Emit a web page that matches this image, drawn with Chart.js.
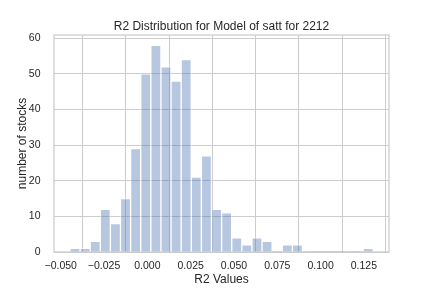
<!DOCTYPE html>
<html>
<head>
<meta charset="utf-8">
<script src="https://cdn.jsdelivr.net/npm/chart.js@4"></script>
<style>
  html, body { margin: 0; padding: 0; background: #fff; }
</style>
</head>
<body>
<canvas id="r2_hist" width="432" height="288"></canvas>
<script>
// histogram bin centres (R2 values) and counts
var binCenters = [-0.04178, -0.03594, -0.03011, -0.02427, -0.01843, -0.01260, -0.00676, -0.00092,
  0.00492, 0.01075, 0.01659, 0.02243, 0.02826, 0.03410, 0.03994, 0.04577, 0.05161, 0.05745,
  0.06329, 0.06912, 0.07496, 0.08080, 0.08663, 0.09247, 0.09831, 0.10414, 0.10998, 0.11582,
  0.12165, 0.12749];
var counts = [1, 1, 3, 12, 8, 15, 29, 50, 58, 52, 48, 54, 21, 27, 12, 11, 4, 2,
  4, 3, 0, 2, 2, 0, 0, 0, 0, 0, 0, 1];

var xTicks = [-0.05, -0.025, 0, 0.025, 0.05, 0.075, 0.1, 0.125];
var yTicks = [0, 10, 20, 30, 40, 50, 60];

var FONT = "'Liberation Sans', Arial, sans-serif";
var TXT = '#262626';
var GRID = '#cccccc';

// matplotlib draws a box round the axes, chart.js only left+bottom
var frame = {
  id: 'frame',
  beforeDatasetsDraw: function(chart) {
    var a = chart.chartArea, ctx = chart.ctx;
    ctx.save();
    ctx.strokeStyle = GRID;
    ctx.lineWidth = 1.25;
    ctx.strokeRect(a.left, a.top, a.right - a.left, a.bottom - a.top);
    ctx.restore();
  }
};

var data = [];
for (var i in binCenters) {
  data.push({x: binCenters[i], y: counts[i]});
}

var ctx = document.getElementById('r2_hist');
var chart = new Chart(ctx, {
  type: 'bar',
  data: {
    datasets: [{
      label: 'R2',
      data: data,
      backgroundColor: 'rgba(76, 114, 176, 0.4)',
      borderColor: 'rgba(255, 255, 255, 0.45)',
      // empty bins: no edge line on the axis
      borderWidth: function(c) { return c.raw && c.raw.y > 0 ? 1 : 0; },
      barPercentage: 1,
      categoryPercentage: 1
    }]
  },
  plugins: [frame],
  options: {
    responsive: false,
    animation: false,
    layout: { padding: { left: 0, right: 43, top: 0, bottom: 0 } },
    plugins: {
      legend: { display: false },
      tooltip: { enabled: false },
      title: {
        display: true,
        fullSize: false,   // centre it over the plot area, like matplotlib
        text: 'R2 Distribution for Model of satt for 2212',
        color: TXT,
        font: { family: FONT, size: 12, weight: 'normal' },
        padding: { top: 19.3, bottom: 1.3 }
      }
    },
    scales: {
      x: {
        type: 'linear',
        offset: false,
        min: -0.0539,
        max: 0.1395,
        afterFit: function(s) { s.height = 36; },
        afterBuildTicks: function(s) { s.ticks = xTicks.map(function(v) { return {value: v}; }); },
        ticks: {
          color: TXT,
          font: { family: FONT, size: 10.5 },
          padding: 8.3,
          maxRotation: 0,
          autoSkip: false,
          callback: function(v) { return (v < -1e-9 ? '\u2212' : '') + Math.abs(v).toFixed(3); }
        },
        grid: { color: GRID, lineWidth: 1, drawTicks: false },
        border: { display: false },
        title: {
          display: true,
          text: 'R2 Values',
          color: TXT,
          font: { family: FONT, size: 12 },
          padding: { top: 0, bottom: 1 }
        }
      },
      y: {
        min: 0,
        max: 60.9,
        afterFit: function(s) { s.width = 54; },
        afterBuildTicks: function(s) { s.ticks = yTicks.map(function(v) { return {value: v}; }); },
        ticks: {
          color: TXT,
          font: { family: FONT, size: 10.5 },
          padding: 13.5
        },
        grid: { color: GRID, lineWidth: 1, drawTicks: false },
        border: { display: false },
        title: {
          display: true,
          text: 'number of stocks',
          color: TXT,
          font: { family: FONT, size: 12 },
          padding: { top: 15.5, bottom: 0 }
        }
      }
    }
  }
});
</script>
</body>
</html>
